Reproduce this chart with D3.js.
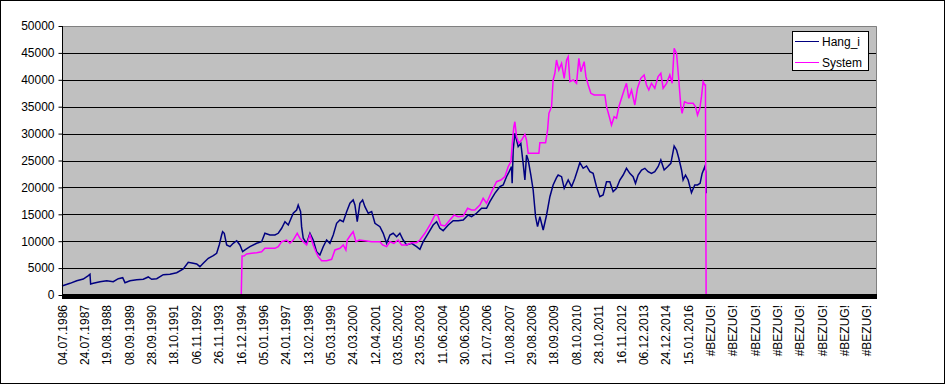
<!DOCTYPE html>
<html><head><meta charset="utf-8">
<script src="https://cdn.jsdelivr.net/npm/d3@7"></script>
<style>
html,body{margin:0;padding:0;background:#fff;}
text{font-family:"Liberation Sans",Arial,sans-serif;}
</style></head>
<body>
<svg id="chart" width="945" height="384"></svg>
<script>
// ---- DATA ----
const rowsPerLabel = 270;
const totalRows = 9845;
const categoryLabels = ["04.07.1986","24.07.1987","19.08.1988","08.09.1989","28.09.1990","18.10.1991","06.11.1992","26.11.1993","16.12.1994","05.01.1996","24.01.1997","13.02.1998","05.03.1999","24.03.2000","12.04.2001","03.05.2002","23.05.2003","11.06.2004","30.06.2005","21.07.2006","10.08.2007","29.08.2008","18.09.2009","08.10.2010","28.10.2011","16.11.2012","06.12.2013","24.12.2014","15.01.2016","#BEZUG!","#BEZUG!","#BEZUG!","#BEZUG!","#BEZUG!","#BEZUG!","#BEZUG!","#BEZUG!"];
const yTicks = [0,5000,10000,15000,20000,25000,30000,35000,40000,45000,50000];
const seriesNames = ["Hang_i","System"];
const seriesColors = ["#000080","#FF00FF"];
// [row, value]
const hangRows = [0,97,178,257,318,338,346,378,459,540,619,680,733,761,821,902,982,1042,1083,1144,1223,1304,1385,1465,1525,1585,1627,1666,1706,1767,1827,1868,1899,1928,1940,1960,1989,2029,2068,2110,2149,2182,2210,2270,2351,2411,2451,2512,2572,2612,2653,2693,2733,2793,2834,2853,2882,2894,2914,2955,2995,3034,3075,3115,3155,3196,3236,3276,3317,3357,3397,3438,3478,3517,3538,3566,3598,3631,3659,3699,3740,3780,3840,3880,3921,3961,4000,4042,4081,4121,4162,4223,4283,4323,4363,4423,4483,4525,4564,4604,4665,4725,4785,4846,4906,4947,5007,5068,5128,5168,5228,5289,5329,5369,5401,5430,5437,5450,5470,5510,5542,5570,5591,5611,5631,5663,5691,5720,5744,5772,5812,5853,5893,5932,5973,5993,6034,6066,6114,6155,6195,6234,6255,6295,6336,6376,6415,6456,6496,6536,6577,6617,6657,6698,6738,6778,6818,6858,6898,6927,6959,7000,7040,7080,7120,7160,7200,7233,7273,7314,7354,7394,7423,7450,7483,7502,7531,7563,7603,7643,7676,7707,7732,7764,7776,7782];
const hangValues = [1670,2170,2660,2970,3600,3850,2040,2170,2480,2660,2480,3030,3220,2290,2660,2850,2920,3350,2920,3030,3780,3850,4150,4830,6080,5890,5760,5260,5890,6820,7310,7750,9300,11150,11770,11470,9300,8980,9610,10090,9300,8050,8370,8980,9610,9910,11470,11150,11150,11470,12400,13630,13010,15190,15800,16730,15490,12700,10540,9610,11470,10220,8050,7440,8980,10220,9610,11150,13330,13940,13630,15490,17050,17660,16730,13630,17050,17660,16420,15190,15490,13330,12700,11470,9610,11150,11470,10840,11470,10220,9300,9610,8980,8490,9910,11470,13010,13630,12400,11950,13010,13820,13820,13940,14870,14560,15190,16120,16120,17350,18900,20130,20450,21990,22920,23850,20760,26950,30060,27570,28200,24480,21380,26020,25090,22300,19520,14560,12700,14560,12080,14870,18270,20450,21800,22300,21990,19830,21380,20130,21690,23550,24600,23550,23980,22920,22610,20130,18270,18590,21060,21060,19200,19830,21380,22300,23550,22610,21990,20760,22300,23240,23550,22920,22610,22920,23850,25090,23240,23850,24480,27700,26950,25410,23240,21380,22300,21380,19020,20450,20450,20760,22610,23850,22920,18900];
const systemRows = [0,2165,2175,2198,2230,2291,2351,2411,2451,2512,2572,2612,2653,2713,2753,2793,2841,2874,2914,2955,2995,3034,3067,3095,3136,3196,3257,3297,3357,3397,3429,3445,3486,3517,3550,3590,3659,3740,3840,3872,3921,3961,4009,4061,4102,4162,4223,4283,4323,4383,4444,4504,4537,4576,4625,4685,4737,4785,4846,4899,4947,4987,5047,5087,5128,5189,5249,5301,5349,5389,5422,5442,5458,5470,5490,5518,5551,5591,5611,5631,5760,5772,5841,5865,5881,5913,5932,5953,5973,6001,6034,6066,6095,6114,6135,6175,6215,6243,6267,6307,6328,6356,6388,6428,6557,6577,6605,6637,6669,6698,6726,6758,6790,6818,6846,6879,6919,6951,6991,7031,7060,7088,7120,7160,7200,7233,7261,7302,7342,7370,7394,7423,7450,7475,7490,7519,7563,7623,7652,7676,7704,7724,7744,7764,7772,7780,9844];
const systemValues = [0,0,7250,7250,7620,7750,7870,8050,8680,8680,8680,8980,9910,10220,9610,10220,11470,10540,9910,9300,11150,9300,8050,7120,6380,6380,6630,8370,8680,9300,8370,10220,11150,11770,9910,10220,10090,9910,9910,9300,8980,9910,9610,10220,9300,9300,9730,9730,10220,11470,13010,14870,14870,13010,12830,13940,14870,14560,14680,16120,15800,15800,16730,17970,17050,19200,21060,21380,21990,23850,24780,28810,31280,32210,29430,28200,28810,29870,28810,26340,26340,28310,28310,30670,33770,35000,39960,41210,43680,41820,43060,40280,43680,44300,39650,39960,39350,43990,41510,43370,40590,39030,37490,37180,37180,35000,33460,31600,33150,32850,35000,36560,38110,39350,36560,38110,35320,38420,40280,40900,39030,38110,39350,38420,40590,41210,38420,39350,40900,39350,45860,44920,39960,35000,33770,35930,35630,35630,35000,33460,34700,36860,39650,39030,39030,0,0];

// ---- CHART ----
const svg = d3.select("#chart");
const W = 945, H = 384;
const plot = {left: 62, right: 877, top: 26, bottom: 295};

svg.append("rect").attr("x",0.5).attr("y",0.5).attr("width",W-1).attr("height",H-1)
  .attr("fill","#fff").attr("stroke","#000");

const x = d3.scaleLinear().domain([0, totalRows-1]).range([plot.left, plot.right]);
const y = d3.scaleLinear().domain([0, 50000]).range([plot.bottom, plot.top]);

svg.append("rect").attr("x",plot.left).attr("y",plot.top)
  .attr("width",plot.right-plot.left).attr("height",plot.bottom-plot.top)
  .attr("fill","#C0C0C0");

// gridlines
svg.append("g").selectAll("line").data(yTicks.filter(v => v>0 && v<50000)).join("line")
  .attr("x1",plot.left).attr("x2",plot.right)
  .attr("y1",d=>Math.round(y(d))+0.5).attr("y2",d=>Math.round(y(d))+0.5)
  .attr("stroke","#000").attr("stroke-width",1);

// plot border top/right (grey)
svg.append("path")
  .attr("d",`M${plot.left},${plot.top+0.5}H${plot.right-0.5}V${plot.bottom}`)
  .attr("fill","none").attr("stroke","#808080");

// series
const hangData = hangRows.map((r,i)=>[r,hangValues[i]]);
const sysData = systemRows.map((r,i)=>[r,systemValues[i]]);
const line = d3.line().x(d=>x(d[0])).y(d=>y(d[1]));
svg.append("path").datum(hangData).attr("d",line)
  .attr("fill","none").attr("stroke",seriesColors[0]).attr("stroke-width",1.5).attr("stroke-linejoin","miter");
svg.append("path").datum(sysData).attr("d",line)
  .attr("fill","none").attr("stroke",seriesColors[1]).attr("stroke-width",1.5).attr("stroke-linejoin","miter");

// x axis band
svg.append("rect").attr("x",plot.left).attr("y",plot.bottom-1).attr("width",plot.right-plot.left).attr("height",5).attr("fill","#000");

// y axis
const yAxis = svg.append("g").attr("transform",`translate(${plot.left+0.5},0)`)
  .call(d3.axisLeft(y).tickValues(yTicks).tickSize(4).tickSizeOuter(0).tickPadding(4).tickFormat(d3.format("d")));
yAxis.select(".domain").attr("stroke","#000");
yAxis.selectAll("line").attr("stroke","#000");
yAxis.selectAll("text").attr("font-size","12px").attr("fill","#000")
  .attr("font-family","'Liberation Sans',Arial,sans-serif");
yAxis.select(".domain").attr("d",`M0,${plot.top}V${plot.bottom+4}`);

// x axis labels
const labelRows = categoryLabels.map((d,i)=>i*rowsPerLabel);
const xAxis = svg.append("g").attr("transform",`translate(0,${plot.bottom+4})`)
  .call(d3.axisBottom(x).tickValues(labelRows).tickSize(0).tickFormat((d,i)=>categoryLabels[i]));
xAxis.select(".domain").remove();
xAxis.selectAll("text")
  .attr("font-size","12px").attr("fill","#000")
  .attr("font-family","'Liberation Sans',Arial,sans-serif")
  .attr("text-anchor","end")
  .attr("transform","rotate(-90)")
  .attr("x",-6).attr("y",0).attr("dy","0.35em");

// legend
const lg = svg.append("g");
lg.append("rect").attr("x",792.5).attr("y",31.5).attr("width",76).attr("height",39)
  .attr("fill","#fff").attr("stroke","#000");
seriesNames.forEach((n,i)=>{
  const yy = 41.5 + i*21;
  lg.append("line").attr("x1",795).attr("x2",819).attr("y1",yy).attr("y2",yy)
    .attr("stroke",seriesColors[i]).attr("stroke-width",1);
  lg.append("text").attr("x",822).attr("y",yy).attr("dy","0.35em")
    .attr("font-size","12px").attr("fill","#000").text(n);
});
</script>
</body></html>
